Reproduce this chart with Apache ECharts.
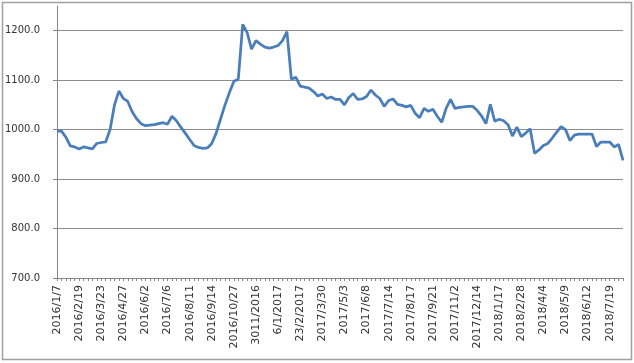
<!DOCTYPE html>
<html>
<head>
<meta charset="utf-8">
<script src="https://cdn.jsdelivr.net/npm/echarts@6/dist/echarts.min.js"></script>
<style>
html,body{margin:0;padding:0;background:#fff;}
#main{width:634px;height:363px;}
</style>
</head>
<body>
<div id="main"></div>
<script>
// Tick labels shown every 5th weekly point
const tickLabels = ['2016/1/7','2016/2/19','2016/3/23','2016/4/27','2016/6/2','2016/7/6','2016/8/11','2016/9/14','2016/10/27','3011/2016','6/1/2017','23/2/2017','2017/3/30','2017/5/3','2017/6/8','2017/7/14','2017/8/17','2017/9/21','2017/11/2','2017/12/14','2018/1/17','2018/2/28','2018/4/4','2018/5/9','2018/6/12','2018/7/19'];

// Series values
const values = [
  997, 997, 985, 967, 965, 961, 965, 963, 961, 972,
  974, 975, 1000, 1050, 1078, 1063, 1057, 1036, 1022, 1012,
  1008, 1009, 1010, 1012, 1014, 1011, 1027, 1018, 1005, 993,
  980, 968, 964, 962, 963, 972, 993, 1022, 1050, 1075,
  1098, 1102, 1213, 1196, 1163, 1180, 1173, 1167, 1165, 1167,
  1170, 1180, 1198, 1102, 1106, 1088, 1086, 1084, 1077, 1068,
  1072, 1063, 1066, 1061, 1061, 1050, 1065, 1073, 1061, 1062,
  1067, 1080, 1070, 1063, 1047, 1059, 1062, 1051, 1049, 1046,
  1049, 1033, 1024, 1043, 1037, 1041, 1027, 1015, 1043, 1061,
  1043, 1045, 1046, 1047, 1047, 1039, 1028, 1012, 1051, 1017,
  1021, 1018, 1010, 987, 1005, 986, 993, 1002, 952, 959,
  968, 972, 983, 995, 1006, 1000, 978, 989, 991, 991,
  991, 991, 966, 975, 975, 975, 965, 970, 938
];

const categories = values.map((v, i) => (i % 5 === 0 && tickLabels[i / 5]) ? tickLabels[i / 5] : '');

const chart = echarts.init(document.getElementById('main'));
chart.setOption({
  animation: false,
  backgroundColor: '#ffffff',
  graphic: [{
    type: 'rect',
    shape: { x: 2.5, y: 2.5, width: 629, height: 357 },
    style: { fill: 'none', stroke: '#a0a0a0', lineWidth: 1.5 },
    silent: true
  }],
  grid: { left: 57, right: 11, top: 6, bottom: 85, containLabel: false },
  xAxis: {
    type: 'category',
    data: categories,
    boundaryGap: false,
    axisLine: { lineStyle: { color: '#868686', width: 1 } },
    axisTick: { show: true, interval: 0, length: 3, lineStyle: { color: '#868686' } },
    axisLabel: {
      interval: 4,
      rotate: 90,
      margin: 7,
      fontFamily: 'DejaVu Sans',
      fontSize: 11,
      color: '#333'
    },
    splitLine: { show: false }
  },
  yAxis: {
    type: 'value',
    min: 700,
    max: 1250,
    interval: 100,
    axisLine: { show: true, lineStyle: { color: '#868686', width: 1 } },
    axisTick: { show: true, length: 4, lineStyle: { color: '#868686' } },
    axisLabel: {
      showMaxLabel: false,
      margin: 17,
      fontFamily: 'DejaVu Sans',
      fontSize: 10,
      color: '#333',
      formatter: v => v.toFixed(1)
    },
    splitLine: { show: true, showMaxLine: false, showMinLine: false, lineStyle: { color: '#8c8c8c', width: 1 } }
  },
  series: [{
    type: 'line',
    data: values,
    symbol: 'none',
    smooth: false,
    lineStyle: { color: '#4a7ebb', width: 2.75 }
  }]
});
</script>
</body>
</html>
